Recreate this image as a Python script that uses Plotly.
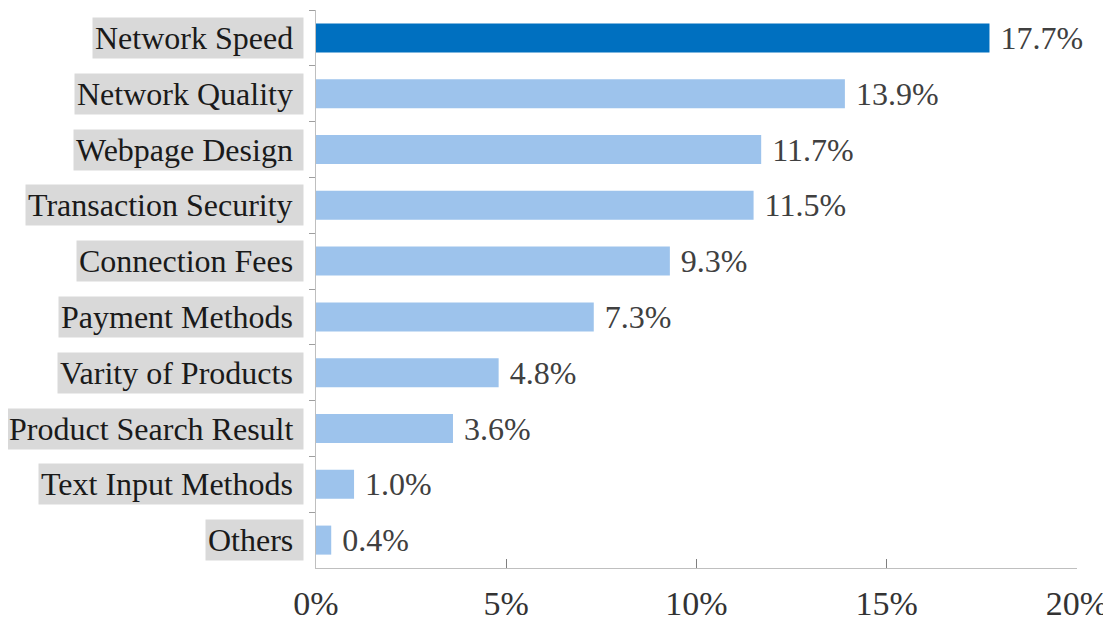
import plotly.graph_objects as go

categories = ["Network Speed", "Network Quality", "Webpage Design", "Transaction Security",
              "Connection Fees", "Payment Methods", "Varity of Products",
              "Product Search Result", "Text Input Methods", "Others"]
values = [17.7, 13.9, 11.7, 11.5, 9.3, 7.3, 4.8, 3.6, 1.0, 0.4]
x_ticks = [0, 5, 10, 15, 20]
x_tick_labels = ["0%", "5%", "10%", "15%", "20%"]

DARK = "#0070C0"
LIGHT = "#9DC3EC"
colors = [DARK] + [LIGHT] * (len(values) - 1)
FONT = "Liberation Serif"
FS = 32

fig = go.Figure(go.Bar(
    x=values, y=categories, orientation="h",
    marker=dict(color=colors, line=dict(width=0)),
    text=["\u00a0" + f"{v:.1f}%" for v in values],
    textposition="outside", constraintext="none", cliponaxis=False,
    textfont=dict(family=FONT, size=FS, color="#404040"),
    width=0.52,
))

for c in categories:
    fig.add_annotation(
        x=0, y=c, xref="x", yref="y", xanchor="right", yanchor="middle",
        xshift=-12, showarrow=False,
        text=c + "\u00a0",
        font=dict(family=FONT, size=FS, color="#1a1a1a"),
        bgcolor="#D9D9D9", borderpad=2,
    )

# page body has an 8px margin, so the figure is 8px smaller and shifted
fig.update_layout(
    width=1103, height=616,
    margin=dict(l=308, r=34, t=2, b=56),
    plot_bgcolor="white", paper_bgcolor="white",
    showlegend=False,
    xaxis=dict(range=[0, 20], tickvals=x_ticks, ticktext=x_tick_labels,
               automargin=False,
               showgrid=False, zeroline=False, showline=True, linecolor="#BFBFBF",
               linewidth=1, ticks="inside", ticklen=9, tickcolor="#7F7F7F",
               ticklabelstandoff=5,
               tickfont=dict(family=FONT, size=34, color="#333333")),
    yaxis=dict(autorange="reversed", showgrid=False, zeroline=False, automargin=False,
               showline=True, linecolor="#BFBFBF", linewidth=1,
               ticks="outside", tickson="boundaries", ticklen=6, tickcolor="#9F9F9F",
               showticklabels=False),
)

fig.write_html("out.html")
